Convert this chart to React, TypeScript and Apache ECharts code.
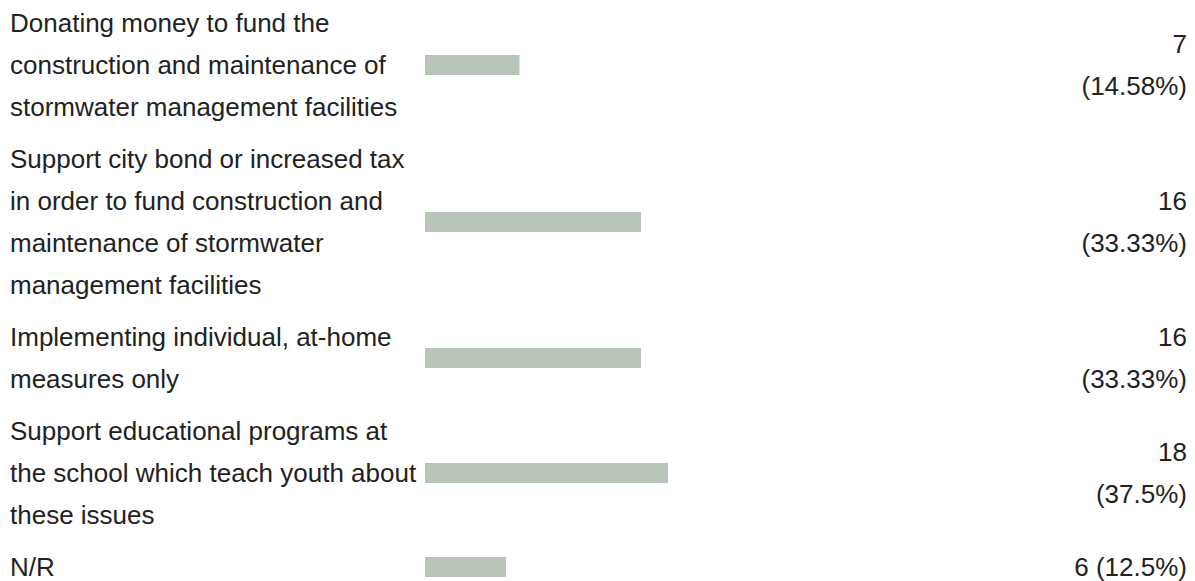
import React, { useEffect, useRef } from "react";
import * as echarts from "echarts";

const categories: string[] = [
  "Donating money to fund the\nconstruction and maintenance of\nstormwater management facilities",
  "Support city bond or increased tax\nin order to fund construction and\nmaintenance of stormwater\nmanagement facilities",
  "Implementing individual, at-home\nmeasures only",
  "Support educational programs at\nthe school which teach youth about\nthese issues",
  "N/R",
];
const counts: number[] = [7, 16, 16, 18, 6];
const totalRespondents = 48;

const FONT = '"Liberation Sans", Arial, sans-serif';
const TEXT_COLOR = "#222222";
const BAR_COLOR = "#b9c4b8";
const LINE_H = 42;
const ROW_PAD = 10;
const START_TOP = -3;
const GRID_LEFT = 425;
const GRID_WIDTH = 648;
const LABEL_LEFT_X = 10;
const VALUE_RIGHT_X = 1187;
const VALUE_COL_WIDTH = 120;
const FONT_SIZE = 26;
const GRID_H = 24;

function pct(v: number): string {
  return String(Math.round((v / totalRespondents) * 10000) / 100);
}

let measureCtx: CanvasRenderingContext2D | null = null;
function textWidth(s: string): number {
  if (!measureCtx) {
    const c = document.createElement("canvas");
    measureCtx = c.getContext("2d");
  }
  if (!measureCtx) return s.length * FONT_SIZE * 0.5;
  measureCtx.font = `${FONT_SIZE}px ${FONT}`;
  return measureCtx.measureText(s).width;
}

function valueLabel(v: number): string {
  const a = String(v);
  const b = `(${pct(v)}%)`;
  const one = `${a} ${b}`;
  return textWidth(one) <= VALUE_COL_WIDTH ? one : `${a}\n${b}`;
}

export default function App() {
  const ref = useRef<HTMLDivElement>(null);
  useEffect(() => {
    if (!ref.current) return;
    const chart = echarts.init(ref.current, null, { renderer: "svg" });
    const grids: any[] = [];
    const xAxes: any[] = [];
    const yAxes: any[] = [];
    const series: any[] = [];
    let top = START_TOP;
    categories.forEach((cat, i) => {
      const lines = cat.split("\n").length;
      const h = lines * LINE_H + ROW_PAD;
      const center = top + h / 2;
      top += h;
      grids.push({
        left: GRID_LEFT,
        width: GRID_WIDTH,
        top: center - GRID_H / 2,
        height: GRID_H,
        containLabel: false,
        outerBoundsMode: "none",
      });
      xAxes.push({ type: "value", gridIndex: i, min: 0, max: totalRespondents, show: false });
      const common = {
        type: "category",
        gridIndex: i,
        data: [cat],
        axisLine: { show: false },
        axisTick: { show: false },
        splitLine: { show: false },
      };
      yAxes.push({
        ...common,
        position: "left",
        axisLabel: {
          align: "left",
          margin: GRID_LEFT - LABEL_LEFT_X,
          fontSize: FONT_SIZE,
          lineHeight: LINE_H,
          color: TEXT_COLOR,
          fontFamily: FONT,
        },
      });
      yAxes.push({
        ...common,
        position: "right",
        axisLabel: {
          align: "right",
          margin: VALUE_RIGHT_X - (GRID_LEFT + GRID_WIDTH),
          fontSize: FONT_SIZE,
          lineHeight: LINE_H,
          color: TEXT_COLOR,
          fontFamily: FONT,
          formatter: () => valueLabel(counts[i]),
        },
      });
      series.push({
        type: "bar",
        xAxisIndex: i,
        yAxisIndex: i * 2,
        data: [counts[i]],
        barWidth: 20,
        itemStyle: { color: BAR_COLOR },
        silent: true,
      });
    });
    chart.setOption({
      animation: false,
      backgroundColor: "#ffffff",
      grid: grids,
      xAxis: xAxes,
      yAxis: yAxes,
      series,
    });
    return () => chart.dispose();
  }, []);
  return (
    <div
      ref={ref}
      style={{ position: "absolute", left: 0, top: 0, width: 1195, height: 581 }}
    />
  );
}
